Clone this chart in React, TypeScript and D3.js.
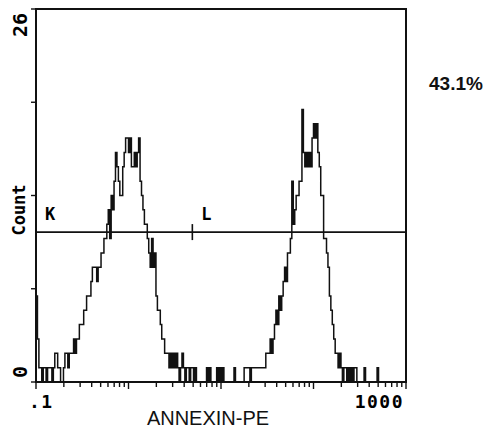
import React, { useEffect, useRef } from 'react'
import * as d3 from 'd3'

// counts per channel (256 log channels, 0.1 .. 1000)
const lowRegion = [6, 3, 1, 1, 0, 1, 1, 0, 1, 1, 1, 0, 1, 2, 2, 1, 1, 0, 0, 1, 2, 2, 1, 2, 2, 2, 3, 2, 3, 3, 4, 4, 4, 5, 5, 6, 6, 6, 7, 8]
const peakK = [8, 8, 7, 8, 8, 9, 9, 10, 10, 11, 12, 10, 13, 12, 14, 16, 15, 14, 13, 13, 15, 16, 17, 17, 16, 17, 15, 15, 16, 15, 16, 17, 14, 13, 12, 11, 11, 10, 9, 8, 10, 8, 9, 6, 5, 5, 4, 3, 3, 2]
const valley = [2, 2, 1, 2, 1, 2, 1, 2, 1, 0, 1, 2, 1, 0, 1, 1, 0, 1, 1, 0, 1, 0, 0, 0, 0, 0, 0, 0, 1, 0, 1, 0, 0, 0, 0, 1, 0, 1, 0, 1, 0, 0, 0, 0, 0, 0, 0, 1, 0, 0, 0, 0, 0, 0, 1, 1, 1, 1, 0, 1, 1, 1, 1, 1, 1, 1, 1, 1]
const peakL = [1, 2, 2, 2, 3, 2, 3, 4, 5, 4, 6, 5, 6, 7, 8, 7, 9, 9, 10, 14, 11, 12, 13, 13, 14, 14, 19, 16, 15, 16, 15, 16, 15, 17, 18, 17, 18, 16, 15, 13, 13, 10, 10, 9, 8, 6, 5, 4, 3, 2, 2, 1, 2, 1]
const highRegion = [0, 1, 1, 0, 1, 0, 1, 0, 1, 1, 0, 0, 0, 0, 0, 1, 0, 0, 0, 0, 0, 0, 0, 0, 1, 0, 0, 0, 0, 0, 0, 0, 0, 0, 0, 0, 0, 0, 0, 0, 0, 0, 0, 0]

const counts = [...lowRegion, ...peakK, ...valley, ...peakL, ...highRegion]

const yTicks = [0, 6.5, 13, 19.5, 26]
const xDomain = [0.1, 1000]
const markers = [
    { label: 'K', from: 0.1, to: 4.9 },
    { label: 'L', from: 4.9, to: 1000 },
]
const markerLevel = 10.45
const gatePercent = '43.1%'

const mono = '"DejaVu Sans Mono", monospace'

export default function App() {
    const ref = useRef<SVGSVGElement>(null)

    useEffect(() => {
        const svg = d3.select(ref.current)
        svg.selectAll('*').remove()

        const left = 36, right = 406, top = 9, bottom = 382

        const xLog = d3.scaleLog().domain(xDomain).range([left, right])
        const xCh = d3.scaleLinear().domain([0, counts.length]).range([left, right])
        const y = d3.scaleLinear().domain([0, 26]).range([bottom, top])

        /* histogram */
        const pts: [number, number][] = [[0, 0], ...counts.map((c, i) => [i, c] as [number, number]), [counts.length, 0]]
        const line = d3.line<[number, number]>()
            .x(d => xCh(d[0]))
            .y(d => y(d[1]))
            .curve(d3.curveStepAfter)
        svg.append('path')
            .attr('d', line(pts))
            .attr('fill', 'none')
            .attr('stroke', '#111')
            .attr('stroke-width', 1.5)

        /* frame */
        svg.append('rect')
            .attr('x', left).attr('y', top)
            .attr('width', right - left).attr('height', bottom - top)
            .attr('fill', 'none')
            .attr('stroke', '#111')
            .attr('stroke-width', 2)

        /* x ticks */
        const isDecade = (v: number) => Math.abs(Math.log10(v) - Math.round(Math.log10(v))) < 1e-6
        svg.append('g')
            .selectAll('line')
            .data(xLog.ticks())
            .enter()
            .append('line')
            .attr('x1', d => xLog(d)).attr('x2', d => xLog(d))
            .attr('y1', bottom).attr('y2', d => bottom + (isDecade(d) ? 7 : 5))
            .attr('stroke', '#111')
            .attr('stroke-width', 1.4)

        /* y ticks */
        svg.append('g')
            .selectAll('line')
            .data(yTicks)
            .enter()
            .append('line')
            .attr('x1', left - 5).attr('x2', left)
            .attr('y1', d => y(d)).attr('y2', d => y(d))
            .attr('stroke', '#111')
            .attr('stroke-width', 1.4)

        /* markers */
        const my = y(markerLevel)
        svg.append('line')
            .attr('x1', xLog(markers[0].from)).attr('x2', xLog(markers[markers.length - 1].to))
            .attr('y1', my).attr('y2', my)
            .attr('stroke', '#111').attr('stroke-width', 1.6)
        const ends = [markers[0].from, ...markers.map(m => m.to)]
        svg.append('g')
            .selectAll('line')
            .data(ends)
            .enter()
            .append('line')
            .attr('x1', d => xLog(d)).attr('x2', d => xLog(d))
            .attr('y1', my - 8).attr('y2', my + 8)
            .attr('stroke', '#111').attr('stroke-width', 1.6)
        svg.append('g')
            .selectAll('text')
            .data(markers)
            .enter()
            .append('text')
            .attr('x', d => xLog(d.from) + 9)
            .attr('y', my - 12)
            .attr('font-family', mono)
            .attr('font-weight', 'bold')
            .attr('font-size', 17)
            .text(d => d.label)

        /* axis labels */
        const rot = (x: number, yy: number, txt: string, anchor: string, size: number) =>
            svg.append('text')
                .attr('transform', `translate(${x},${yy}) rotate(-90)`)
                .attr('text-anchor', anchor)
                .attr('font-family', mono)
                .attr('font-weight', 'bold')
                .attr('font-size', size)
                .text(txt)
        rot(27, 13, '26', 'end', 20)
        rot(27, 366, '0', 'end', 20)
        rot(25, 210, 'Count', 'middle', 17)

        svg.append('text')
            .attr('x', 29).attr('y', 408)
            .attr('font-family', mono).attr('font-weight', 'bold')
            .attr('font-size', 18).attr('letter-spacing', 1.5)
            .text('.1')
        svg.append('text')
            .attr('x', 404).attr('y', 408)
            .attr('text-anchor', 'end')
            .attr('font-family', mono).attr('font-weight', 'bold')
            .attr('font-size', 18).attr('letter-spacing', 1.5)
            .text('1000')

        svg.append('text')
            .attr('x', 208).attr('y', 425)
            .attr('text-anchor', 'middle')
            .attr('font-family', '"Liberation Sans", Arial, sans-serif')
            .attr('font-size', 20)
            .attr('fill', '#111')
            .text('ANNEXIN-PE')

        svg.append('text')
            .attr('x', 429).attr('y', 90)
            .attr('font-family', '"Liberation Sans", Arial, sans-serif')
            .attr('font-weight', 'bold')
            .attr('font-size', 19)
            .attr('fill', '#111')
            .text(gatePercent)
    }, [])

    return (
        <div style={{ position: 'absolute', left: 0, top: 0 }}>
            <svg ref={ref} width={489} height={432} style={{ display: 'block', background: '#fff' }} />
        </div>
    )
}
